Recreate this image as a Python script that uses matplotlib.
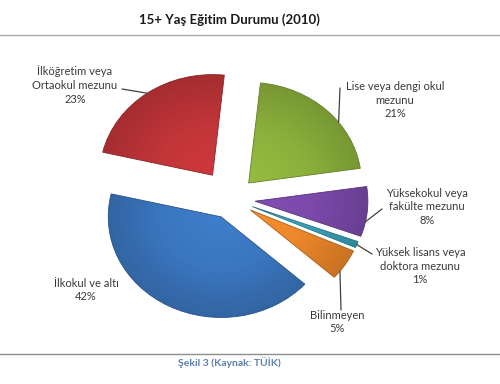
import numpy as np
import matplotlib.pyplot as plt
from matplotlib.lines import Line2D
from matplotlib.colors import LinearSegmentedColormap, to_rgb

plt.rcParams['font.family'] = ['Lato', 'DejaVu Sans']

# data
labels = ['Lise veya dengi okul\nmezunu', 'Yüksekokul veya\nfakülte mezunu',
          'Yüksek lisans veya\ndoktora mezunu', 'Bilinmeyen',
          'İlkokul ve altı', 'İlköğretim veya\nOrtaokul mezunu']
shares = [21, 8, 1, 5, 42, 23]
colors = ['#8db23c', '#7b4aab', '#36a2b8', '#ec872a', '#3b77c0', '#c23539']
explode = [0.22, 0.21, 0.2, 0.2, 0.2, 0.29]

# label layout (pixels from top-left), leader start, anchor fraction on the arc
label_pos = [(395, 100), (427, 207), (420, 266), (337, 322), (86, 290), (75, 85)]
leader_start = [(340, 88), (382, 209), (372, 254), (341, 310), None, (122, 89)]
anchor_frac = [0.62, 0.7, 0.5, 0.75, None, 0.5]

W, H = 500, 384
fig = plt.figure(figsize=(W / 100, H / 100), dpi=100)


def fx(x):
    return x / W


def fy(y):
    return 1 - y / H


ax = fig.add_axes([51 / W, 24 / H, 361 / W, 322 / H])
wedges, _ = ax.pie(shares, colors=colors, explode=explode, startangle=84,
                   counterclock=False, wedgeprops=dict(edgecolor='none'))

# radial shading on every slice
xs = np.linspace(-1.6, 1.6, 400)
X, Y = np.meshgrid(xs, xs[::-1])
for w, c in zip(wedges, colors):
    base = np.array(to_rgb(c))
    cmap = LinearSegmentedColormap.from_list(
        'g', [np.clip(base * 1.06, 0, 1), base, base * 0.85])
    cx, cy = w.center
    dist = np.hypot(X - cx, Y - cy) / w.r
    im = ax.imshow(dist, extent=(-1.6, 1.6, -1.6, 1.6), cmap=cmap, vmin=0, vmax=1,
                   aspect='auto', zorder=w.get_zorder() + 0.1)
    im.set_clip_path(w)
    w.set_edgecolor(tuple(base * 0.7))
    w.set_linewidth(0.6)
    w.set_zorder(w.get_zorder() + 0.2)
    w.set_facecolor('none')

ax.set_aspect('auto')
ax.set_xlim(-1.6, 1.6)
ax.set_ylim(-1.6, 1.6)
ax.axis('off')

# labels and leader lines
for i, (lab, s) in enumerate(zip(labels, shares)):
    x, y = label_pos[i]
    fig.text(fx(x), fy(y), f'{lab}\n{s}%', ha='center', va='center',
             multialignment='center', fontsize=8, color='#3a3a3a', linespacing=1.3)
    if leader_start[i] is None:
        continue
    w = wedges[i]
    ang = np.radians(w.theta2 - anchor_frac[i] * (w.theta2 - w.theta1))
    wx = w.center[0] + w.r * np.cos(ang)
    wy = w.center[1] + w.r * np.sin(ang)
    sx, sy = leader_start[i]
    ax.annotate('', xy=(wx, wy), xycoords='data',
                xytext=(fx(sx), fy(sy)), textcoords='figure fraction',
                arrowprops=dict(arrowstyle='-', color='#404040', lw=0.9,
                                shrinkA=0, shrinkB=0))

fig.text(fx(229), fy(20), '15+ Yaş Eğitim Durumu (2010)', ha='center', va='center',
         fontsize=9.5, fontweight='bold', color='#1a1a1a')
fig.add_artist(Line2D([0, 1], [fy(35), fy(35)], color='#a8a8a8', lw=1))
fig.add_artist(Line2D([0, 1], [fy(354), fy(354)], color='#8c8c8c', lw=1))
fig.text(fx(229), fy(363), 'Şekil 3 (Kaynak: TÜİK)', ha='center', va='center',
         fontsize=7.5, fontweight='bold', color='#5b7fae')

fig.savefig('out.png', dpi=100)
